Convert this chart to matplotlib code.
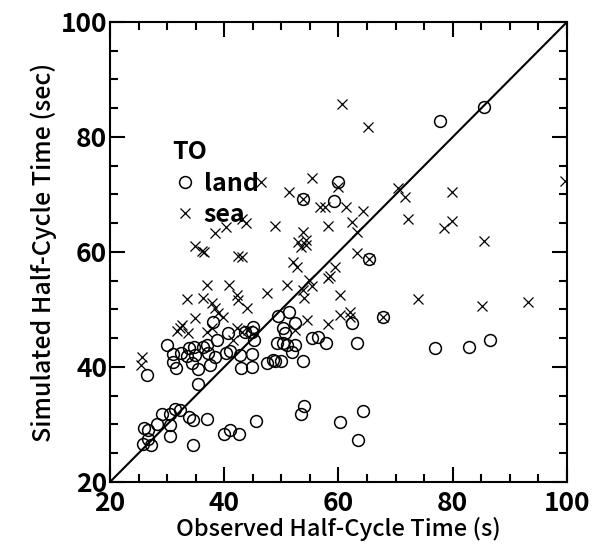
import matplotlib
matplotlib.use("Agg")
import matplotlib.pyplot as plt
from matplotlib.ticker import MultipleLocator

plt.rcParams['font.family'] = ['Noto Sans CJK JP', 'DejaVu Sans']

land_x = [85.5, 77.8, 59.9, 59.2, 53.8, 65.4, 67.8, 62.4, 63.3, 76.9, 82.9, 86.5,
          64.3, 63.4, 26.5, 31.6, 35.4, 35.4, 37.5, 42.9, 44.9, 47.5, 48.9, 50.0, 53.8,
          26.0, 26.7, 25.8, 27.2, 26.7, 28.2, 29.1, 30.5, 30.5, 30.5, 31.4, 32.3, 33.9,
          34.5, 34.5, 37.0, 40.0, 41.0, 42.6, 45.6, 53.4, 54.0, 60.3,
          30.0, 31.0, 31.0, 32.4, 33.5, 33.8, 34.7, 34.9, 34.4, 36.3, 37.0, 37.2, 38.0,
          38.4, 38.7, 40.3, 40.7, 41.0, 42.8, 43.6, 44.8, 45.0, 45.2, 44.9, 49.4, 50.3,
          50.6, 51.3, 49.2, 50.3, 51.0, 52.4, 52.4, 51.9, 48.5, 55.4, 56.4, 57.8]
land_y = [85.2, 82.8, 72.2, 68.9, 69.2, 58.8, 48.7, 47.7, 44.2, 43.3, 43.5, 44.7,
          32.3, 27.3, 38.6, 39.8, 39.6, 37.0, 40.3, 39.8, 40.0, 40.7, 41.0, 41.0, 41.0,
          29.4, 29.0, 26.6, 26.4, 27.5, 30.1, 31.8, 31.8, 29.9, 28.0, 32.7, 32.5, 31.3,
          30.8, 26.4, 30.9, 28.3, 29.0, 28.3, 30.6, 31.8, 33.2, 30.4,
          43.8, 42.3, 40.9, 42.4, 41.9, 43.3, 43.5, 42.1, 40.7, 43.5, 43.8, 42.4, 47.8,
          41.7, 44.7, 42.4, 45.9, 42.8, 42.1, 46.1, 46.1, 47.0, 44.7, 42.3, 48.9, 46.8,
          45.9, 49.6, 44.2, 44.2, 43.8, 47.7, 43.8, 42.6, 41.2, 45.0, 45.3, 44.2]

sea_x = [60.6, 46.4, 51.3, 55.4, 59.9, 53.8, 56.8, 57.7, 61.3, 65.2, 70.4, 71.7,
         79.9, 99.7, 64.3, 62.4, 63.3, 72.2, 78.5, 79.9, 85.5, 63.3, 65.4, 73.9,
         85.1, 93.2, 62.0, 67.8, 43.8, 43.1, 48.9, 58.2, 53.8, 52.9, 54.3, 53.5,
         52.0, 52.8, 59.4, 58.5, 43.1, 40.3, 38.4, 34.9, 36.1, 36.5, 42.4, 54.3,
         37.0, 40.8, 51.0, 58.2, 54.9, 55.4, 53.8, 54.0, 60.3, 47.5, 33.5, 36.3,
         42.2, 42.4, 44.0, 37.8, 38.4, 38.9, 39.8, 34.9, 32.6, 32.3, 31.7, 33.7,
         37.0, 37.8, 42.2, 43.1, 44.2, 41.5, 54.5, 58.2, 60.3, 62.0, 25.6, 25.4, 52.4]
sea_y = [85.7, 72.2, 70.4, 72.9, 71.3, 69.2, 67.8, 67.8, 67.8, 81.7, 71.1, 69.6,
         70.4, 72.3, 67.1, 65.2, 63.5, 65.7, 64.2, 65.4, 61.9, 59.8, 58.8, 51.8,
         50.6, 51.3, 49.6, 48.7, 65.0, 65.7, 64.5, 64.5, 63.5, 61.7, 61.2, 60.9,
         58.3, 57.4, 57.4, 55.8, 59.1, 64.3, 63.3, 61.0, 60.2, 60.0, 59.3, 62.0,
         54.3, 54.3, 54.3, 55.5, 55.1, 54.1, 53.4, 52.0, 52.5, 52.9, 51.8, 52.0,
         52.5, 51.7, 50.3, 51.1, 50.3, 49.4, 48.7, 48.5, 47.3, 46.8, 46.3, 45.9,
         46.1, 46.8, 46.8, 46.1, 46.4, 44.7, 48.2, 47.5, 49.0, 48.7, 41.7, 40.3, 46.4]

line_xy = [20, 100]
ticks = [20, 40, 60, 80, 100]

fig = plt.figure(figsize=(6.03, 5.54), dpi=100)
ax = fig.add_axes([0.1824, 0.13, 0.7579, 0.8303])

ax.plot(line_xy, line_xy, color='black', lw=1.5, zorder=1)
ax.plot(land_x, land_y, linestyle='none', marker='o', markersize=8.5,
        markerfacecolor='none', markeredgecolor='black', markeredgewidth=1.1, label='land')
ax.plot(sea_x, sea_y, linestyle='none', marker='x', markersize=7.5,
        color='black', markeredgewidth=0.9, label='sea')

ax.set_xlim(20, 100)
ax.set_ylim(20, 100)
ax.set_xticks(ticks)
ax.set_yticks(ticks)
ax.xaxis.set_minor_locator(MultipleLocator(5))
ax.yaxis.set_minor_locator(MultipleLocator(5))
ax.tick_params(which='both', direction='in', top=True, right=True, width=1.5)
ax.tick_params(which='major', length=11, labelsize=19, pad=2)
ax.tick_params(axis='x', which='major', pad=6)
ax.tick_params(which='minor', length=6)
for lab in ax.get_xticklabels() + ax.get_yticklabels():
    lab.set_fontweight('bold')
for s in ax.spines.values():
    s.set_linewidth(1.5)

ax.set_xlabel('Observed Half-Cycle Time (s)', fontsize=17, fontweight='medium', labelpad=0)
ax.set_ylabel('Simulated Half-Cycle Time (sec)', fontsize=18, fontweight='medium', labelpad=3)

leg = ax.legend(loc='upper left', bbox_to_anchor=(0.115, 0.765), frameon=False,
                title='TO', fontsize=18, title_fontproperties={'size': 18, 'weight': 'bold'},
                handletextpad=0.25, borderaxespad=0, labelspacing=0.3, handlelength=1.0,
                alignment='left')
for t in leg.get_texts():
    t.set_fontweight('bold')

fig.savefig('out.png', dpi=100)
